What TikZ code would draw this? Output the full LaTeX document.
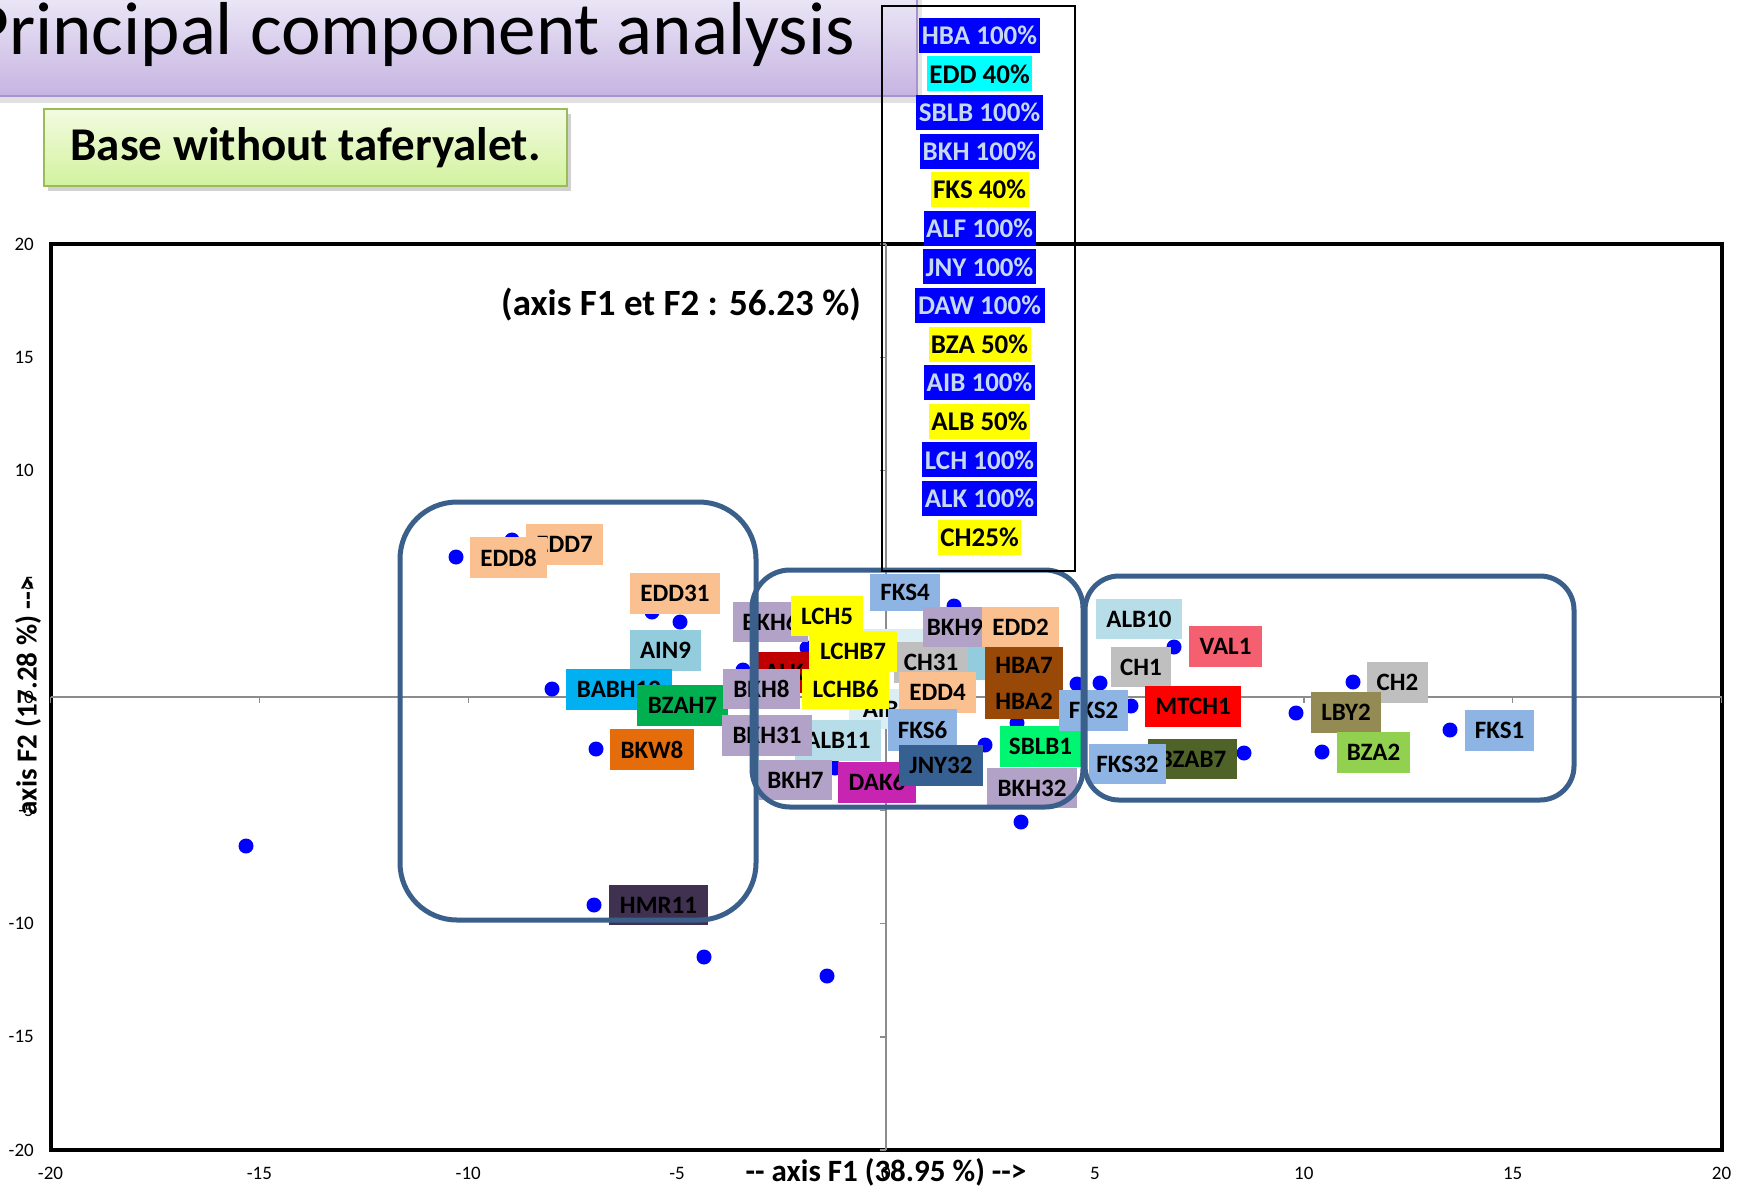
\documentclass[tikz,border=0pt]{standalone}
\usepackage{fontspec}
\setmainfont{Carlito}
\newcommand\fs[1]{\fontsize{#1}{#1}\selectfont}
\definecolor{dotblue}{HTML}{0000FF}
\definecolor{grpblue}{HTML}{3A5F8B}
\definecolor{axgray}{HTML}{8C8C8C}
\definecolor{cBKH}{HTML}{B3A2C7}
\definecolor{cEDD}{HTML}{FAC090}
\definecolor{cFKS}{HTML}{8EB4E3}
\definecolor{cALB}{HTML}{B7DEE8}
\definecolor{cAIN}{HTML}{93CDDD}
\definecolor{cBABH}{HTML}{00B0F0}
\definecolor{cBZAH}{HTML}{00B050}
\definecolor{cBKW}{HTML}{E46C0A}
\definecolor{cHMR}{HTML}{403151}
\definecolor{cLCH}{HTML}{FFFF00}
\definecolor{cALK}{HTML}{C00000}
\definecolor{cCH}{HTML}{BFBFBF}
\definecolor{cHBA}{HTML}{984807}
\definecolor{cDAK}{HTML}{C724B1}
\definecolor{cJNY}{HTML}{376092}
\definecolor{cSBLB}{HTML}{00F670}
\definecolor{cVAL}{HTML}{F4606F}
\definecolor{cMTCH}{HTML}{FF0000}
\definecolor{cLBY}{HTML}{948A54}
\definecolor{cBZAtwo}{HTML}{92D050}
\definecolor{cBZAB}{HTML}{4F6228}
\definecolor{cAIBl}{HTML}{DBEEF4}
\definecolor{legblue}{HTML}{0000FF}
\definecolor{legtxt}{HTML}{C6D9F1}
\definecolor{legcyan}{HTML}{00FFFF}
\definecolor{legyel}{HTML}{FFFF00}
\definecolor{bandtop}{HTML}{EAE5F6}
\definecolor{bandbot}{HTML}{C6B4E1}
\definecolor{bandedge}{HTML}{A892CF}
\definecolor{gtop}{HTML}{F2FBE0}
\definecolor{gbot}{HTML}{D2F29E}
\definecolor{gedge}{HTML}{9BBB59}
\tikzset{
  lab/.style={inner sep=0pt, font=\fs{25}\bfseries, text=black},
  leg/.style={inner sep=0pt, font=\fs{27}\bfseries, minimum height=35pt},
  dot/.style={circle, fill=dotblue, inner sep=0pt, minimum size=15pt},
  grp/.style={draw=grpblue, line width=5pt, rounded corners=#1pt},
  axline/.style={draw=axgray, line width=1.5pt},
  ticklab/.style={font=\fs{19}, text=black, inner sep=0pt},
}
\newcommand\lbox[7]{\node[lab, fill=#2, minimum width={(#5-#3)*1pt}, minimum height={(#6-#4)*1pt}] (#1) at ({(#3+#5)/2},{(#4+#6)/2}) {#7};}
\newcommand\legbox[6]{\node[leg, fill=#2, text=#3, minimum width=#5pt] (#1) at (979.5,{35.2+38.6*#4}) {#6};}
\begin{document}
\begin{tikzpicture}[x=1pt,y=-1pt]
\useasboundingbox (0,0) rectangle (1739,1187);
\fill[white] (0,0) rectangle (1739,1187);
% title band
\fill[black, opacity=0.12] (0,96) rectangle (921,103);
\fill[black, opacity=0.10] (917,0) rectangle (922,100);
\shade[top color=bandtop, bottom color=bandbot] (0,0) rectangle (917,96);
\draw[bandedge, line width=1.2pt] (0,96) -- (917,96) -- (917,0);
\node[anchor=base east, font=\fs{75}, inner sep=0pt] (title) at (855,54) {Principal component analysis};
% green box
\fill[black, opacity=0.18] (48,114) rectangle (571,191);
\node[draw=gedge, line width=1.5pt, top color=gtop, bottom color=gbot, minimum width=523pt, minimum height=77pt, inner sep=0pt, font=\fs{47}\bfseries] (base) at (305.5,147.5) {Base without taferyalet.};
% plot frame and axes
\draw[line width=4.5pt] (51,244) rectangle (1722,1150);
\draw[axline] (51,697) -- (1722,697);
\draw[axline] (886,244) -- (886,1150);
\foreach \v in {-20,-15,...,20} {
  \draw[axline] ({886+41.775*\v},697) -- ({886+41.775*\v},703);
  \draw[axline] (880,{697-22.65*\v}) -- (886,{697-22.65*\v});
  \node[ticklab] (xt\v) at ({886+41.775*\v},1173) {\v};
  \node[ticklab, anchor=east] (yt\v) at (34,{697-22.65*\v}) {\v};
}
\node[font=\fs{31}\bfseries, inner sep=0pt] (xtitle) at (886,1172) {-{}- axis F1 (38.95 \%) -{}->};
\node[font=\fs{29}\bfseries, rotate=90, inner sep=0pt] (ytitle) at (28,696) {axis F2 (17.28 \%) -{}->};
\node[font=\fs{37}\bfseries, inner sep=0pt] (ptitle) at (681,305) {(axis F1 et F2 : 56.23 \%)};
% points
\foreach \x/\y [count=\i] in {246/846, 456/557, 512/540, 652/612, 680/622, 552/689, 596/749, 594/905, 704/957, 827/976, 743/670, 807/648, 835/768, 954/606, 985/745, 1017/723, 1021/822, 1077/684, 1100/683, 1131/706, 1174/647, 1244/753, 1296/713, 1322/752, 1353/682, 1450/730}
  \node[dot] (d\i) at (\x,\y) {};
% left cluster labels
\lbox{lEDDseven}{cEDD}{526}{524}{603}{565}{EDD7}
\lbox{lEDDeight}{cEDD}{470}{537}{547}{578}{EDD8}
\lbox{lEDDtto}{cEDD}{630}{573}{720}{614}{EDD31}
\lbox{lAIN}{cAIN}{630}{630}{701}{671}{AIN9}
\lbox{lBABH}{cBABH}{566}{669}{672}{710}{BABH12}
\lbox{lBZAH}{cBZAH}{637}{685}{728}{726}{BZAH7}
\lbox{lBKW}{cBKW}{610}{729}{694}{770}{BKW8}
\lbox{lHMR}{cHMR}{609}{885}{708}{925}{HMR11}
% middle cluster labels
\lbox{lAIB}{cAIBl}{849}{689}{925}{729}{AIB1}
\lbox{lBKHsix}{cBKH}{733}{602}{808}{642}{BKH6}
\lbox{lLCHfive}{cLCH}{791}{596}{863}{636}{LCH5}
\lbox{lhidA}{cAIBl}{863}{629}{923}{670}{}
\lbox{lhidB}{cAIN}{940}{640}{990}{680}{}
\lbox{lFKSfour}{cFKS}{870}{574}{940}{611}{FKS4}
\lbox{lALK}{cALK}{758}{652}{810}{693}{ALK}
\lbox{lCHtto}{cCH}{894}{642}{968}{683}{CH31}
\lbox{lLCHBseven}{cLCH}{809}{631}{897}{672}{LCHB7}
\lbox{lBKHeight}{cBKH}{723}{669}{800}{709}{BKH8}
\lbox{lLCHBsix}{cLCH}{802}{669}{889}{709}{LCHB6}
\lbox{lEDDfour}{cEDD}{899}{672}{976}{713}{EDD4}
\lbox{lBKHnine}{cBKH}{923}{607}{987}{647}{BKH9}
\lbox{lEDDtwo}{cEDD}{982}{607}{1059}{647}{EDD2}
\lbox{lHBAseven}{cHBA}{985}{647}{1063}{683}{HBA7}
\lbox{lHBAtwo}{cHBA}{985}{683}{1063}{719}{HBA2}
\lbox{lFKSsix}{cFKS}{888}{709}{957}{751}{FKS6}
\lbox{lALBeleven}{cALB}{795}{720}{881}{761}{ALB11}
\lbox{lBKHto}{cBKH}{722}{715}{812}{756}{BKH31}
\lbox{lBKHseven}{cBKH}{759}{760}{832}{800}{BKH7}
\lbox{lDAK}{cDAK}{838}{762}{916}{803}{DAK6}
\lbox{lJNY}{cJNY}{899}{745}{983}{786}{JNY32}
\lbox{lSBLB}{cSBLB}{1000}{726}{1081}{767}{SBLB1}
\lbox{lBKHtt}{cBKH}{987}{768}{1077}{808}{BKH32}
% right cluster labels
\lbox{lALBten}{cALB}{1096}{599}{1182}{639}{ALB10}
\lbox{lVAL}{cVAL}{1189}{626}{1262}{667}{VAL1}
\lbox{lCHone}{cCH}{1111}{647}{1171}{687}{CH1}
\lbox{lFKStwo}{cFKS}{1059}{690}{1128}{731}{FKS2}
\lbox{lMTCH}{cMTCH}{1145}{686}{1241}{727}{MTCH1}
\lbox{lCHtwo}{cCH}{1367}{662}{1428}{703}{CH2}
\lbox{lLBY}{cLBY}{1311}{692}{1381}{733}{LBY2}
\lbox{lBZAtwo}{cBZAtwo}{1337}{732}{1410}{773}{BZA2}
\lbox{lFKSone}{cFKS}{1465}{710}{1534}{751}{FKS1}
\lbox{lBZAB}{cBZAB}{1148}{739}{1237}{779}{BZAB7}
\lbox{lFKStt}{cFKS}{1089}{744}{1166}{784}{FKS32}
% group outlines
\draw[grp=57] (400,502) rectangle (756,920);
\draw[grp=38] (752,570) rectangle (1083,807);
\draw[grp=34] (1085,576) rectangle (1574,800);
% legend
\draw[line width=2pt] (882,6) rectangle (1075,571);
\legbox{gHBA}{legblue}{legtxt}{0}{121}{HBA 100\%}
\legbox{gEDD}{legcyan}{black}{1}{105}{EDD 40\%}
\legbox{gSBLB}{legblue}{legtxt}{2}{127}{SBLB 100\%}
\legbox{gBKH}{legblue}{legtxt}{3}{119}{BKH 100\%}
\legbox{gFKS}{legyel}{black}{4}{98}{FKS 40\%}
\legbox{gALF}{legblue}{legtxt}{5}{112}{ALF 100\%}
\legbox{gJNY}{legblue}{legtxt}{6}{113}{JNY 100\%}
\legbox{gDAW}{legblue}{legtxt}{7}{130}{DAW 100\%}
\legbox{gBZA}{legyel}{black}{8}{102}{BZA 50\%}
\legbox{gAIB}{legblue}{legtxt}{9}{111}{AIB 100\%}
\legbox{gALB}{legyel}{black}{10}{101}{ALB 50\%}
\legbox{gLCH}{legblue}{legtxt}{11}{115}{LCH 100\%}
\legbox{gALK}{legblue}{legtxt}{12}{115}{ALK 100\%}
\legbox{gCH}{legyel}{black}{13}{83}{CH25\%}
\end{tikzpicture}
\end{document}
